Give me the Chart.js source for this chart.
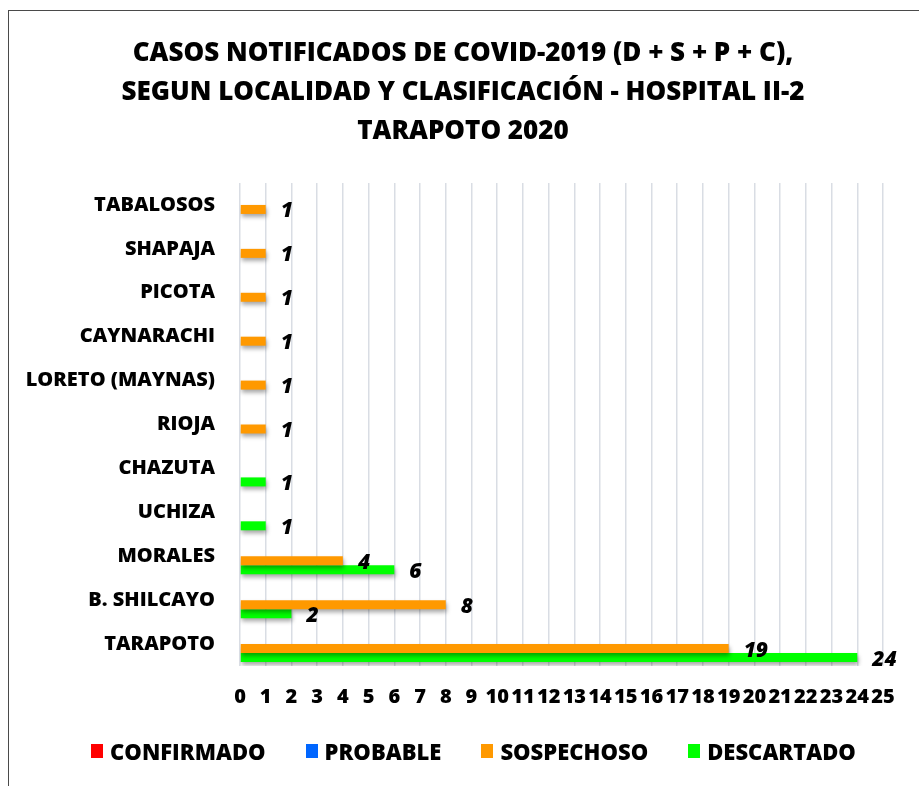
<!DOCTYPE html>
<html>
<head>
<meta charset="utf-8">
<script src="https://cdn.jsdelivr.net/npm/chart.js@4/dist/chart.umd.min.js"></script>
<style>
  html, body { margin: 0; padding: 0; background: #fff; }
  #wrap { position: relative; width: 919px; height: 786px; overflow: hidden; background: #fff; }
  #frame { position: absolute; left: 8px; top: 10px; width: 1000px; height: 1000px; border: 1.5px solid #4a4a4a; box-sizing: border-box; }
  #title { position: absolute; left: 0; top: 32px; width: 926px; text-align: center;
           font-family: 'Open Sans', sans-serif; font-weight: 800; font-size: 26px; line-height: 39px; color: #000; }
  #legend { position: absolute; left: 0; top: 738px; width: 947px; display: flex; justify-content: center; gap: 40px;
            font-family: 'Open Sans', sans-serif; font-weight: 800; font-size: 22px; line-height: 26px; color: #000; }
  #legend .item { display: flex; align-items: center; gap: 7px; white-space: nowrap; }
  #legend .box { width: 12px; height: 14px; display: inline-block; }
  canvas { position: absolute; left: 0; top: 0; }
</style>
</head>
<body>
<div id="wrap">
  <div id="frame"></div>
  <canvas id="c" width="919" height="786"></canvas>
  <div id="title"></div>
  <div id="legend"></div>
</div>
<script>
const titleLines = ['CASOS NOTIFICADOS DE COVID-2019 (D + S + P + C),', 'SEGUN LOCALIDAD Y CLASIFICACIÓN - HOSPITAL II-2', 'TARAPOTO 2020'];
const categories = ['TABALOSOS', 'SHAPAJA', 'PICOTA', 'CAYNARACHI', 'LORETO (MAYNAS)', 'RIOJA', 'CHAZUTA', 'UCHIZA', 'MORALES', 'B. SHILCAYO', 'TARAPOTO'];
const seriesNames = ['CONFIRMADO', 'PROBABLE', 'SOSPECHOSO', 'DESCARTADO'];
const seriesColors = ['#ff0000', '#0066ff', '#ff9900', '#00ff00'];
const confirmado = [0, 0, 0, 0, 0, 0, 0, 0, 0, 0, 0];
const probable   = [0, 0, 0, 0, 0, 0, 0, 0, 0, 0, 0];
const sospechoso = [1, 1, 1, 1, 1, 1, 0, 0, 4, 8, 19];
const descartado = [0, 0, 0, 0, 0, 0, 1, 1, 6, 2, 24];
const xMin = 0, xMax = 25, xStep = 1;

document.getElementById('title').innerHTML = titleLines.map(t => '<div>' + t + '</div>').join('');
const leg = document.getElementById('legend');
seriesNames.forEach((n, i) => {
  const it = document.createElement('div'); it.className = 'item';
  const b = document.createElement('span'); b.className = 'box'; b.style.background = seriesColors[i];
  const t = document.createElement('span'); t.textContent = n;
  it.appendChild(b); it.appendChild(t); leg.appendChild(it);
});

const FONT = "'Open Sans', sans-serif";
const allSeries = [confirmado, probable, sospechoso, descartado];

const shadowPlugin = {
  id: 'barShadow',
  beforeDatasetsDraw(chart) {
    const ctx = chart.ctx; ctx.save();
    ctx.shadowColor = 'rgba(0,0,0,0.35)'; ctx.shadowBlur = 4; ctx.shadowOffsetX = 1; ctx.shadowOffsetY = 3;
  },
  afterDatasetsDraw(chart) { chart.ctx.restore(); }
};

const valueLabels = {
  id: 'valueLabels',
  afterDraw(chart) {
    const ctx = chart.ctx; ctx.save();
    ctx.font = "italic 800 21px " + FONT;
    ctx.fillStyle = '#000'; ctx.textAlign = 'left'; ctx.textBaseline = 'middle';
    chart.data.datasets.forEach((ds, di) => {
      const meta = chart.getDatasetMeta(di);
      meta.data.forEach((el, i) => {
        const v = ds.data[i];
        if (!v) return;
        ctx.fillText(String(v), el.x + 15, el.y + 2);
      });
    });
    ctx.restore();
  }
};

new Chart(document.getElementById('c'), {
  type: 'bar',
  data: {
    labels: categories,
    datasets: seriesNames.map((n, i) => ({
      label: n, data: allSeries[i], backgroundColor: seriesColors[i], borderWidth: 0,
      categoryPercentage: 0.82, barPercentage: 1.0
    }))
  },
  options: {
    indexAxis: 'y',
    responsive: false, animation: false, devicePixelRatio: 1,
    layout: { padding: { top: 183, bottom: 70, left: 0, right: 36 } },
    plugins: { legend: { display: false }, title: { display: false }, tooltip: { enabled: false } },
    scales: {
      y: {
        afterFit(s) { s.width = 240; },
        ticks: { color: '#000', padding: 25, font: { family: FONT, size: 20, weight: 800 } },
        grid: { display: false, drawTicks: false },
        border: { display: false }
      },
      x: {
        min: xMin, max: xMax,
        afterFit(s) { s.height = 50; },
        ticks: { stepSize: xStep, autoSkip: false, maxRotation: 0, minRotation: 0, color: '#000', padding: 19,
                 font: { family: FONT, size: 20, weight: 800 } },
        grid: { color: '#d9dde4', lineWidth: 1.5, drawTicks: false },
        border: { display: false }
      }
    }
  },
  plugins: [shadowPlugin, valueLabels]
});
</script>
</body>
</html>
